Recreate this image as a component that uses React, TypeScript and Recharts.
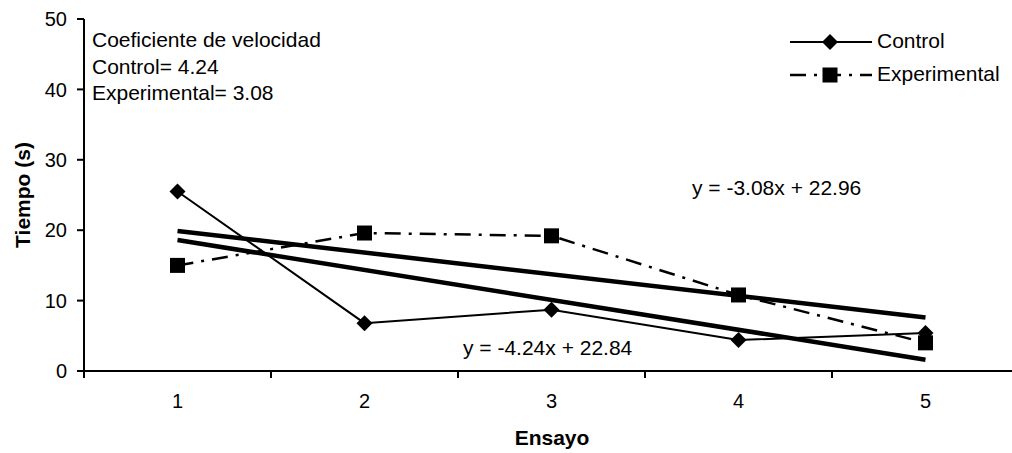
import React from "react";
import { LineChart, Line, XAxis, YAxis } from "recharts";

const ensayos = [1, 2, 3, 4, 5];
const control = [25.5, 6.8, 8.7, 4.4, 5.4];
const experimental = [15.0, 19.6, 19.2, 10.8, 4.0];
// trend line ends (ensayo 1 and 5)
const trendControl = [18.6, null, null, null, 1.6];
const trendExperimental = [19.9, null, null, null, 7.6];
const yTicks = [0, 10, 20, 30, 40, 50];

const FONT = '"Liberation Sans", Arial, sans-serif';
const BAND = 187;

const data = ensayos.map((x, i) => ({
  x,
  control: control[i],
  experimental: experimental[i],
  trendC: trendControl[i],
  trendE: trendExperimental[i],
}));

const Diamond = (props: any) => {
  const { cx, cy } = props;
  if (cx == null || cy == null) return null;
  const r = 8;
  return (
    <polygon
      points={`${cx},${cy - r} ${cx + r},${cy} ${cx},${cy + r} ${cx - r},${cy}`}
      fill="#000"
    />
  );
};

const Square = (props: any) => {
  const { cx, cy } = props;
  if (cx == null || cy == null) return null;
  return <rect x={cx - 7.5} y={cy - 7.5} width={15} height={15} fill="#000" />;
};

const XTick = (props: any) => {
  const { x, y, payload, index } = props;
  return (
    <g>
      <line x1={x - BAND / 2} y1={y} x2={x - BAND / 2} y2={y + 7} stroke="#000" strokeWidth={2} />
      {index === ensayos.length - 1 && (
        <line x1={x + BAND / 2} y1={y} x2={x + BAND / 2} y2={y + 7} stroke="#000" strokeWidth={2} />
      )}
      <text x={x} y={y + 37} textAnchor="middle" fontSize={20} fontFamily={FONT} fill="#000">
        {payload.value}
      </text>
    </g>
  );
};

const textStyle: React.CSSProperties = {
  position: "absolute",
  fontFamily: FONT,
  fontSize: 21,
  color: "#000",
  whiteSpace: "nowrap",
  lineHeight: "26.5px",
};

const legendRow: React.CSSProperties = {
  display: "flex",
  alignItems: "center",
  height: 33,
};

export default function App() {
  return (
    <div
      style={{
        position: "absolute",
        left: 0,
        top: 0,
        width: 1012,
        height: 453,
        overflow: "hidden",
        background: "#fff",
      }}
    >
      <LineChart
        width={1019}
        height={453}
        data={data}
        margin={{ top: 19, right: 0, bottom: 0, left: 0 }}
      >
        <XAxis
          dataKey="x"
          type="number"
          domain={[0.5, 5.5]}
          ticks={ensayos}
          tickLine={false}
          tickSize={0}
          tickMargin={0}
          height={82}
          axisLine={{ stroke: "#000", strokeWidth: 2 }}
          tick={<XTick />}
          interval={0}
        />
        <YAxis
          type="number"
          domain={[0, 50]}
          ticks={yTicks}
          width={84}
          tickSize={7}
          tickMargin={10}
          axisLine={{ stroke: "#000", strokeWidth: 2 }}
          tickLine={{ stroke: "#000", strokeWidth: 2 }}
          tick={{ fill: "#000", fontSize: 20, fontFamily: FONT }}
        />
        <Line
          dataKey="trendE"
          stroke="#000"
          strokeWidth={4.5}
          dot={false}
          activeDot={false}
          connectNulls
          isAnimationActive={false}
        />
        <Line
          dataKey="trendC"
          stroke="#000"
          strokeWidth={4.5}
          dot={false}
          activeDot={false}
          connectNulls
          isAnimationActive={false}
        />
        <Line
          dataKey="control"
          name="Control"
          stroke="#000"
          strokeWidth={2}
          dot={<Diamond />}
          activeDot={false}
          isAnimationActive={false}
        />
        <Line
          dataKey="experimental"
          name="Experimental"
          stroke="#000"
          strokeWidth={2.5}
          strokeDasharray="16 8 3 8"
          dot={<Square />}
          activeDot={false}
          isAnimationActive={false}
        />
      </LineChart>

      {/* legend */}
      <div style={{ ...textStyle, left: 790, top: 25 }}>
        <div style={legendRow}>
          <svg width={87} height={20}>
            <line x1={0} y1={10} x2={82} y2={10} stroke="#000" strokeWidth={2} />
            <Diamond cx={40} cy={10} />
          </svg>
          <span>Control</span>
        </div>
        <div style={legendRow}>
          <svg width={87} height={20}>
            <line x1={0} y1={10} x2={82} y2={10} stroke="#000" strokeWidth={2.5} strokeDasharray="16 8 3 8" />
            <Square cx={40} cy={10} />
          </svg>
          <span>Experimental</span>
        </div>
      </div>

      <div style={{ ...textStyle, left: 92, top: 27 }}>
        Coeficiente de velocidad
        <br />
        Control= 4.24
        <br />
        Experimental= 3.08
      </div>
      <div style={{ ...textStyle, left: 692, top: 175 }}>y = -3.08x + 22.96</div>
      <div style={{ ...textStyle, left: 463, top: 335 }}>y = -4.24x + 22.84</div>
      <div
        style={{
          ...textStyle,
          left: 552,
          top: 438,
          fontWeight: "bold",
          transform: "translate(-50%, -50%)",
        }}
      >
        Ensayo
      </div>
      <div
        style={{
          ...textStyle,
          left: 23,
          top: 195,
          fontWeight: "bold",
          transform: "translate(-50%, -50%) rotate(-90deg)",
        }}
      >
        Tiempo (s)
      </div>
    </div>
  );
}
